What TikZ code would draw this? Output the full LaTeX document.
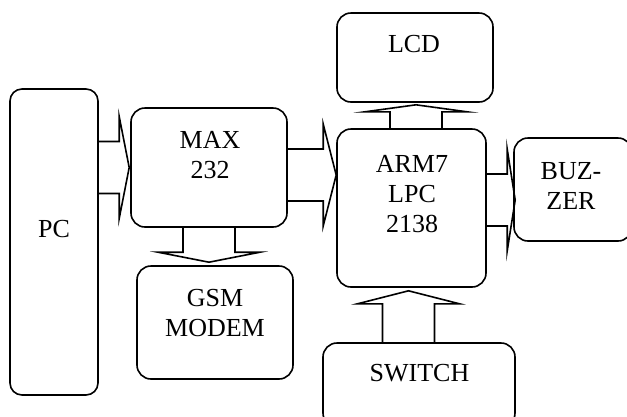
\documentclass[tikz,border=0pt]{standalone}
\usepackage{fontspec}
\setmainfont{Liberation Serif}
\usetikzlibrary{calc}
\tikzset{
  blk/.style={draw, line width=1.6pt, rounded corners=14pt, inner sep=0pt},
  lbl/.style={align=center, font=\fontsize{26}{30}\selectfont, inner sep=0pt},
  barrow/.style={draw, line width=1.6pt, line join=miter, miter limit=20},
}
\newcommand{\blockarrow}[3][10]{%
  \path ($(#3)!#1pt!(#2)$) coordinate (hb);
  \draw[barrow] ($(#2)!26pt!90:(#3)$) -- ($(hb)!26pt!90:(#3)$) -- ($(hb)!51pt!90:(#3)$) -- (#3)
    -- ($(hb)!51pt!-90:(#3)$) -- ($(hb)!26pt!-90:(#3)$) -- ($(#2)!26pt!-90:(#3)$);
}
\begin{document}
\begin{tikzpicture}[x=1pt, y=-1pt]
\useasboundingbox (0,0) rectangle (627,416);
\clip (0,0) rectangle (627,416);
% boxes
\node[blk, minimum width=88pt, minimum height=306pt, rounded corners=12pt] (pc) at (54,242) {};
\node[blk, minimum width=156pt, minimum height=119pt] (max) at (209,167.5) {};
\node[blk, minimum width=156pt, minimum height=113pt] (gsm) at (215,322.5) {};
\node[blk, minimum width=156pt, minimum height=89pt] (lcd) at (415,57.5) {};
\node[blk, minimum width=149pt, minimum height=158pt] (arm) at (411.5,208) {};
\node[blk, minimum width=118pt, minimum height=103pt] (buz) at (573,189.5) {};
\node[blk, minimum width=192pt, minimum height=84pt] (sw) at (419,385) {};
% labels
\node[lbl] (pct) at (54,229) {PC};
\node[lbl] (maxt) at (210,155) {MAX\\232};
\node[lbl] (gsmt) at (215,313) {GSM\\MODEM};
\node[lbl] (lcdt) at (414,44) {LCD};
\node[lbl] (armt) at (412,194) {ARM7\\LPC\\2138};
\node[lbl] (buzt) at (571,186) {BUZ-\\ZER};
\node[lbl] (swt) at (419.5,373) {SWITCH};
% block arrows
\coordinate (a1s) at (pc.east |- max.west);
\coordinate (a1t) at ($(max.west)+(-1,0)$);
\blockarrow[10]{a1s}{a1t}
\coordinate (a2t) at ($(arm.west)+(0,-33)$);
\coordinate (a2s) at (max.east |- a2t);
\blockarrow[13]{a2s}{a2t}
\coordinate (a3t) at ($(lcd.south)+(1,2)$);
\coordinate (a3s) at (a3t |- arm.north);
\blockarrow[7]{a3s}{a3t}
\coordinate (a4t) at ($(buz.west)+(2,10.5)$);
\coordinate (a4s) at (arm.east |- a4t);
\blockarrow[8]{a4s}{a4t}
\coordinate (a5t) at ($(arm.south)+(-3,3)$);
\coordinate (a5s) at (a5t |- sw.north);
\blockarrow[13]{a5s}{a5t}
\coordinate (a6b) at (max.south |- gsm.north);
\coordinate (a6t) at ($(a6b)+(0,-3)$);
\coordinate (a6s) at (max.south);
\blockarrow[10]{a6s}{a6t}
\end{tikzpicture}
\end{document}
